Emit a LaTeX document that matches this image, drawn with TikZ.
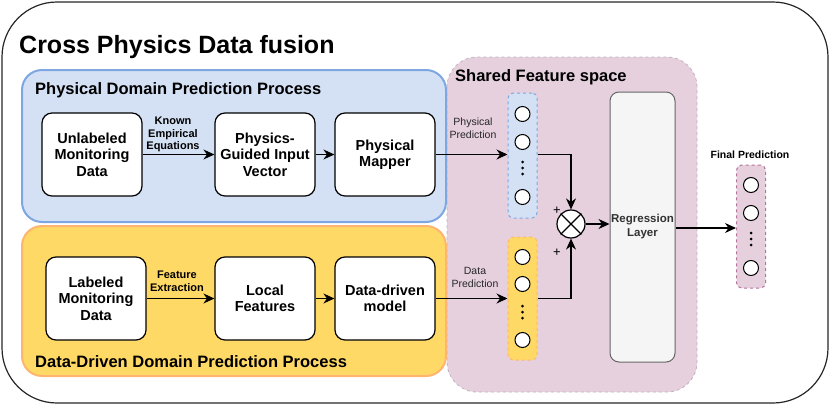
\documentclass[tikz,border=0pt]{standalone}
\usepackage{fontspec}
\setmainfont{Liberation Sans}
\usetikzlibrary{arrows.meta}
\definecolor{bluefill}{HTML}{D4E1F5}
\definecolor{bluedraw}{HTML}{7EA6E0}
\definecolor{orfill}{HTML}{FFD966}
\definecolor{ordraw}{HTML}{FFB570}
\definecolor{pinkfill}{HTML}{E6D0DE}
\definecolor{pinkdraw}{HTML}{B5739D}
\definecolor{greyfill}{HTML}{F5F5F5}
\definecolor{greydraw}{HTML}{666666}
\tikzset{
  procbox/.style={draw=black, line width=1.2pt, fill=white, rounded corners=10pt, minimum width=100pt, minimum height=83pt, align=center, font=\fontsize{14.5}{16.5}\selectfont\bfseries, inner sep=2pt},
  lbl/.style={font=\fontsize{11}{12.5}\selectfont\bfseries, align=center, inner sep=0pt},
  plbl/.style={font=\fontsize{10.5}{13}\selectfont, align=center, inner sep=0pt, text=black!85},
  arr/.style={-{Stealth[length=11pt,width=10pt]}, line width=1.1pt},
  neuron/.style={circle, draw=black, line width=1pt, fill=white, minimum size=15pt, inner sep=0pt},
  vdot/.style={circle, fill=black, minimum size=3pt, inner sep=0pt},
  colbox/.style={rounded corners=5pt, dashed, line width=1pt, minimum width=29pt, inner sep=0pt},
  head/.style={anchor=west, font=\fontsize{16.5}{19}\selectfont\bfseries, inner sep=0pt}
}
\begin{document}
\begin{tikzpicture}[x=1pt,y=-1pt]
\useasboundingbox (0,0) rectangle (831,410);
% outer
\draw[line width=1.2pt, rounded corners=55pt, draw=black!85] (2,2) rectangle (828,403);
\node[anchor=west, font=\fontsize{25}{28}\selectfont\bfseries, inner sep=0pt] (title) at (19,47) {Cross Physics Data fusion};
% shared feature space
\draw[fill=pinkfill, draw=pinkfill!85!black, dashed, line width=0.8pt, rounded corners=30pt] (447,57) rectangle (697,392);
\node[head] (shared) at (455,77) {Shared Feature space};
% blue domain
\draw[fill=bluefill, draw=bluedraw, line width=2pt, rounded corners=20pt] (22,70) rectangle (446,222);
\node[head] (phystitle) at (35,90) {Physical Domain Prediction Process};
% orange domain
\draw[fill=orfill, draw=ordraw, line width=2pt, rounded corners=20pt] (22,226) rectangle (446,376);
\node[head] (datatitle) at (35,362) {Data-Driven Domain Prediction Process};
% process boxes
\node[procbox] (unl) at (92,154.5) {Unlabeled\\Monitoring\\Data};
\node[procbox] (pgi) at (265,154.5) {Physics-\\Guided Input\\Vector};
\node[procbox] (pm) at (385,154.5) {Physical\\Mapper};
\node[procbox] (lab) at (96,298.5) {Labeled\\Monitoring\\Data};
\node[procbox] (lf) at (265,298.5) {Local\\Features};
\node[procbox] (ddm) at (385,298.5) {Data-driven\\model};
\draw[arr] (unl) -- (pgi);
\draw[arr] (pgi) -- (pm);
\draw[arr] (lab) -- (lf);
\draw[arr] (lf) -- (ddm);
\node[lbl] (kee) at (173,134.5) {Known\\Empirical\\Equations};
\node[lbl] (fe) at (177,281.5) {Feature\\Extraction};
% columns
\node[colbox, fill=bluefill, draw=bluedraw, minimum height=125pt] (bcol) at (522.5,155.5) {};
\node[colbox, fill=orfill, draw=ordraw, minimum height=123pt] (ocol) at (522.5,298.5) {};
\node[colbox, fill=pinkfill, draw=pinkdraw, minimum height=123pt] (fcol) at (751,226.5) {};
\node[neuron] (b1) at (522.5,114) {};
\node[neuron] (b2) at (522.5,142) {};
\node[vdot] (bd1) at (522.5,162) {};
\node[vdot] (bd2) at (522.5,168) {};
\node[vdot] (bd3) at (522.5,174) {};
\node[neuron] (b3) at (522.5,197) {};
\node[neuron] (o1) at (522.5,257) {};
\node[neuron] (o2) at (522.5,284) {};
\node[vdot] (od1) at (522.5,306) {};
\node[vdot] (od2) at (522.5,312) {};
\node[vdot] (od3) at (522.5,318) {};
\node[neuron] (o3) at (522.5,340) {};
\node[neuron] (f1) at (751,185) {};
\node[neuron] (f2) at (751,213) {};
\node[vdot] (fd1) at (751,233) {};
\node[vdot] (fd2) at (751,239) {};
\node[vdot] (fd3) at (751,245) {};
\node[neuron] (f3) at (751,268) {};
\node[lbl, font=\fontsize{10.5}{12}\selectfont\bfseries] (fpl) at (750,155) {Final Prediction};
% prediction arrows
\draw[arr] (pm.east) -- (pm.east -| bcol.west);
\draw[arr] (ddm.east) -- (ddm.east -| ocol.west);
\node[plbl] (ppl) at (473,128) {Physical\\Prediction};
\node[plbl] (dpl) at (475,277) {Data\\Prediction};
% fusion
\node[circle, draw=black, line width=1.2pt, fill=white, minimum size=28pt, inner sep=0pt] (fus) at (571,224) {};
\draw[line width=1.2pt] (fus.45) -- (fus.225) (fus.135) -- (fus.315);
\draw[arr] (bcol.east |- pm.east) -| (fus.north);
\draw[arr] (ocol.east |- ddm.east) -| (fus.south);
\node[font=\fontsize{13}{14}\selectfont, inner sep=0pt] (plus1) at (557,211) {+};
\node[font=\fontsize{13}{14}\selectfont, inner sep=0pt] (plus2) at (557,253) {+};
% regression
\node[draw=greydraw, fill=greyfill, line width=1pt, rounded corners=9pt, minimum width=65pt, minimum height=270pt, align=center, font=\fontsize{11.5}{14}\selectfont\bfseries, text=black!80, inner sep=0pt] (reg) at (642.5,227) {Regression\\Layer};
\draw[arr] (fus.east) -- (fus.east -| reg.west);
\draw[arr] (reg.east |- fcol.west) ++(0,1.5) coordinate (rs) (rs) -- (rs -| fcol.west);
\end{tikzpicture}
\end{document}
